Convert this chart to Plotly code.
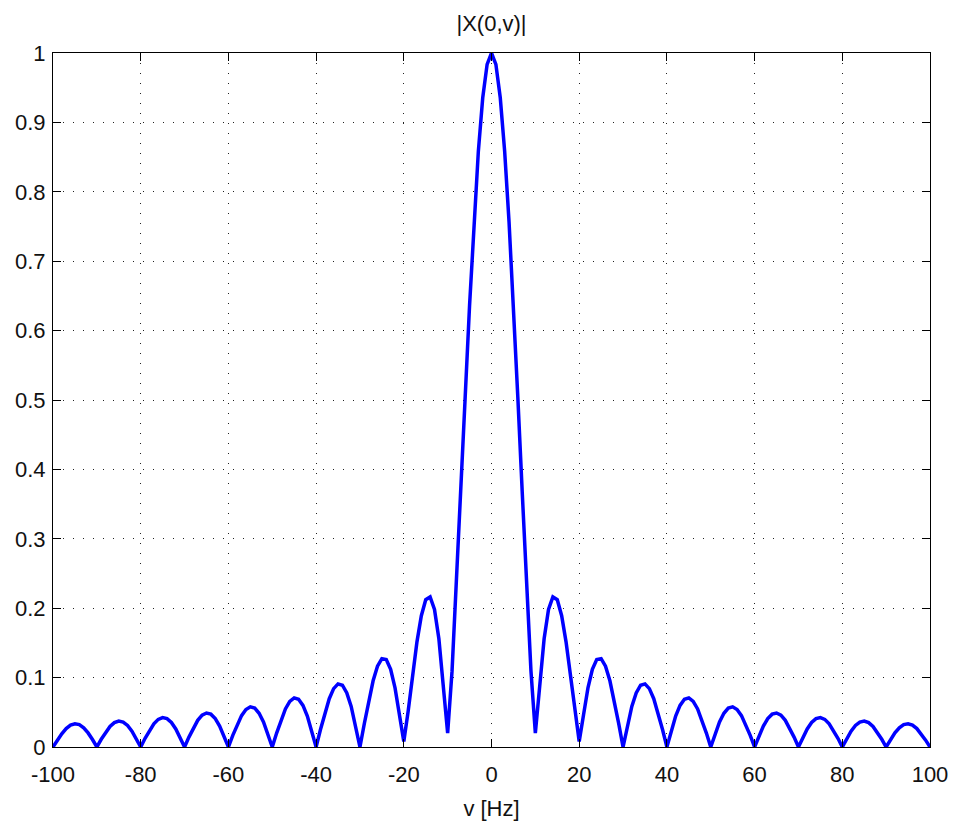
import plotly.graph_objects as go

# frequency samples (Hz)
v_pos = list(range(0, 101))
# |X(0,v)| for v = 0..100 (1 Hz steps)
mag_pos = [
    1.0, 0.9836, 0.9355, 0.8584, 0.7568, 0.6366, 0.5046, 0.3679, 0.2339, 0.1093,
    0.02, 0.0894, 0.1560, 0.1981, 0.2162, 0.2122, 0.1892, 0.1515, 0.1040, 0.0518,
    0.008, 0.0468, 0.0851, 0.1120, 0.1261, 0.1273, 0.1164, 0.0954, 0.0668, 0.0339,
    0.0, 0.0317, 0.0585, 0.0780, 0.0890, 0.0909, 0.0841, 0.0696, 0.0493, 0.0252,
    0.0, 0.0240, 0.0446, 0.0599, 0.0688, 0.0707, 0.0658, 0.0548, 0.0390, 0.0201,
    0.0, 0.0193, 0.0360, 0.0486, 0.0560, 0.0579, 0.0540, 0.0452, 0.0323, 0.0167,
    0.0, 0.0161, 0.0302, 0.0409, 0.0473, 0.0490, 0.0458, 0.0384, 0.0275, 0.0143,
    0.0, 0.0139, 0.0260, 0.0353, 0.0409, 0.0424, 0.0398, 0.0334, 0.0240, 0.0125,
    0.0, 0.0121, 0.0228, 0.0310, 0.0360, 0.0374, 0.0352, 0.0296, 0.0213, 0.0111,
    0.0, 0.0108, 0.0203, 0.0277, 0.0322, 0.0335, 0.0315, 0.0265, 0.0191, 0.0099,
    0.0,
]
# negative side (read as the mirror image of the positive side)
v_neg = [-x for x in reversed(v_pos[1:])]
mag_neg = list(reversed(mag_pos[1:]))

v = v_neg + v_pos
mag = mag_neg + mag_pos

x_ticks = [-100, -80, -60, -40, -20, 0, 20, 40, 60, 80, 100]
x_ticktext = ["-100", "-80", "-60", "-40", "-20", "0", "20", "40", "60", "80", "100"]
y_ticks = [0, 0.1, 0.2, 0.3, 0.4, 0.5, 0.6, 0.7, 0.8, 0.9, 1]
y_ticktext = ["0", "0.1", "0.2", "0.3", "0.4", "0.5", "0.6", "0.7", "0.8", "0.9", "1"]

fig = go.Figure()
fig.add_trace(go.Scatter(
    x=v, y=mag, mode="lines",
    line=dict(color="#0000ff", width=3.5),
    showlegend=False, hoverinfo="skip",
))

font_family = "Liberation Sans, Arial, sans-serif"
FS = 22
axis_common = dict(
    showline=True, linecolor="black", linewidth=1, mirror="ticks",
    ticks="inside", ticklen=8, tickcolor="black", tickwidth=1,
    showgrid=True, gridcolor="#222222", gridwidth=1, griddash="1px,9px",
    zeroline=False,
    tickfont=dict(family=font_family, size=FS, color="#111111"),
)

fig.update_layout(
    width=960, height=829,
    margin=dict(l=53, r=27, t=53, b=82),
    paper_bgcolor="white", plot_bgcolor="white",
    font=dict(family=font_family, size=FS, color="#111111"),
    title=dict(text="|X(0,v)|", x=0.5, xref="paper", xanchor="center",
               y=1 - 23 / 829, yref="container", yanchor="middle",
               font=dict(family=font_family, size=FS, color="#111111")),
    xaxis=dict(range=[-100, 100], tickvals=x_ticks, ticktext=x_ticktext,
               ticklabelstandoff=8,
               title=dict(text="v [Hz]", standoff=14,
                          font=dict(family=font_family, size=FS, color="#111111")),
               **axis_common),
    yaxis=dict(range=[0, 1], tickvals=y_ticks, ticktext=y_ticktext,
               ticklabelstandoff=2,
               **axis_common),
)

fig.write_html("out.html")
